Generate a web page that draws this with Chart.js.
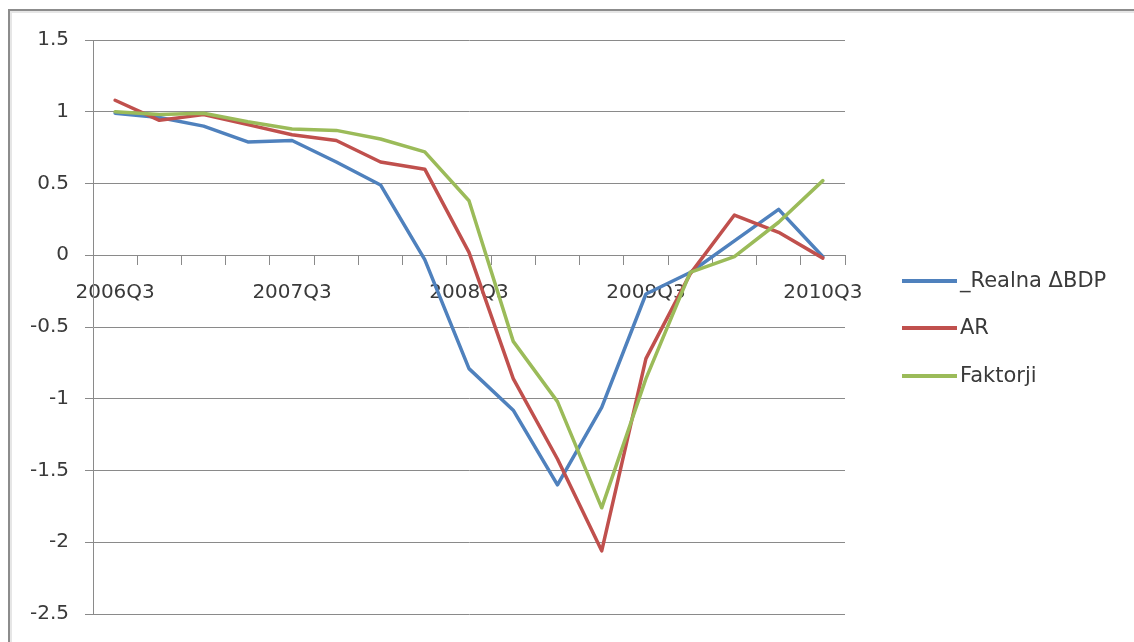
<!DOCTYPE html>
<html>
<head>
<meta charset="utf-8">
<style>
  html, body { margin: 0; padding: 0; background: #ffffff; }
  #wrap { width: 1134px; height: 642px; }
</style>
<script src="https://cdn.jsdelivr.net/npm/chart.js@4.4.1/dist/chart.umd.min.js"></script>
</head>
<body>
<div id="wrap"><canvas id="chart" width="1134" height="642"></canvas></div>
<script>
// Quarters shown on the category axis
const quarters = [
  '2006Q3', '2006Q4', '2007Q1', '2007Q2', '2007Q3', '2007Q4', '2008Q1', '2008Q2',
  '2008Q3', '2008Q4', '2009Q1', '2009Q2', '2009Q3', '2009Q4', '2010Q1', '2010Q2', '2010Q3'
];

// Series values
const realnaBDP = [0.99, 0.96, 0.90, 0.79, 0.80, 0.65, 0.49, -0.03, -0.79, -1.08, -1.60, -1.06, -0.27, -0.12, 0.10, 0.32, -0.01];
const arModel   = [1.08, 0.94, 0.98, 0.91, 0.84, 0.80, 0.65, 0.60, 0.02, -0.86, -1.42, -2.06, -0.72, -0.13, 0.28, 0.16, -0.02];
const faktorji  = [1.00, 0.98, 0.99, 0.93, 0.88, 0.87, 0.81, 0.72, 0.38, -0.60, -1.02, -1.76, -0.86, -0.12, -0.01, 0.23, 0.52];

// Value axis range and step
const yMin = -2.5;
const yMax = 1.5;
const yStep = 0.5;

// Every fourth quarter gets a label
const labelEvery = 4;

const FONT = '"DejaVu Sans", "Open Sans", sans-serif';
const TEXT = '#3a3a3a';
const GRID = '#8a8a8a';

// Outer frame of the chart object
const framePlugin = {
  id: 'frame',
  beforeDraw(chart) {
    const ctx = chart.ctx;
    ctx.save();
    ctx.strokeStyle = '#8c8c8c';
    ctx.lineWidth = 2;
    ctx.beginPath();
    ctx.moveTo(9, chart.height + 2);
    ctx.lineTo(9, 10);
    ctx.lineTo(chart.width + 2, 10);
    ctx.stroke();
    ctx.strokeStyle = '#e6e6e6';
    ctx.lineWidth = 2;
    ctx.beginPath();
    ctx.moveTo(11, chart.height + 2);
    ctx.lineTo(11, 12);
    ctx.lineTo(chart.width + 2, 12);
    ctx.stroke();
    ctx.restore();
  }
};

// Legend on the right: line sample followed by the series name
const sideLegend = {
  id: 'sideLegend',
  afterDraw(chart) {
    const ctx = chart.ctx;
    const x0 = 902, x1 = 957, textX = 960;
    const rows = [281, 328, 376];
    ctx.save();
    ctx.font = '21px ' + FONT;
    ctx.textBaseline = 'middle';
    ctx.textAlign = 'left';
    chart.data.datasets.forEach((ds, i) => {
      const y = rows[i];
      ctx.strokeStyle = ds.borderColor;
      ctx.lineWidth = 4;
      ctx.lineCap = 'butt';
      ctx.beginPath();
      ctx.moveTo(x0, y);
      ctx.lineTo(x1, y);
      ctx.stroke();
      ctx.fillStyle = TEXT;
      ctx.fillText(ds.label, textX, y + 1);
    });
    ctx.restore();
  }
};

new Chart(document.getElementById('chart'), {
  type: 'line',
  data: {
    labels: quarters,
    datasets: [
      { label: '_Realna ΔBDP', data: realnaBDP, borderColor: '#4f81bd', order: 2 },
      { label: 'AR', data: arModel, borderColor: '#c0504d', order: 1 },
      { label: 'Faktorji', data: faktorji, borderColor: '#9bbb59', order: 0 }
    ]
  },
  options: {
    responsive: false,
    animation: false,
    devicePixelRatio: 1,
    layout: { padding: { left: 0, top: 40, right: 289, bottom: 25 } },
    elements: {
      line: { borderWidth: 3.5, tension: 0, borderCapStyle: 'round', borderJoinStyle: 'round', fill: false },
      point: { radius: 0, hoverRadius: 0 }
    },
    plugins: {
      legend: { display: false },
      title: { display: false },
      tooltip: { enabled: false }
    },
    scales: {
      x: {
        type: 'category',
        position: { y: 0 },
        offset: true,
        grid: {
          offset: true,
          drawOnChartArea: false,
          drawTicks: true,
          tickLength: 9,
          color: GRID
        },
        border: { display: true, color: GRID, width: 1 },
        ticks: {
          autoSkip: false,
          maxRotation: 0,
          minRotation: 0,
          padding: 17,
          color: TEXT,
          font: { family: FONT, size: 20 },
          callback(value, index) {
            return index % labelEvery === 0 ? quarters[index] : '';
          }
        }
      },
      y: {
        min: yMin,
        max: yMax,
        afterFit(scale) { scale.width = 93; },
        grid: {
          color: GRID,
          drawTicks: true,
          tickLength: 8,
          lineWidth: 1
        },
        border: { display: true, color: GRID, width: 1 },
        ticks: {
          stepSize: yStep,
          padding: 16,
          color: TEXT,
          font: { family: FONT, size: 20 },
          callback(value) { return String(value); }
        }
      }
    }
  },
  plugins: [framePlugin, sideLegend]
});
</script>
</body>
</html>
